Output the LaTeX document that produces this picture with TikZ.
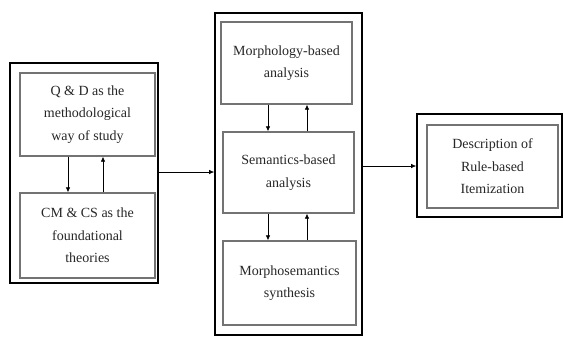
\documentclass[tikz,border=0pt]{standalone}
\usepackage{fontspec}
\setmainfont{Liberation Serif}
\usetikzlibrary{arrows.meta}
\begin{document}
\begin{tikzpicture}[x=1pt,y=1pt,
  outerbox/.style={draw=black, line width=1.6pt, minimum width=#1},
  innerbox/.style={draw=black!55, line width=1.3pt, align=center, text=black!85,
    font=\fontsize{14}{22.5}\selectfont, inner sep=0pt},
  conn/.style={draw=black, line width=0.7pt, -{Latex[length=5pt,width=4.5pt]}}
]
\useasboundingbox (0,0) rectangle (563,-338);
% left group
\node[outerbox=148pt, minimum height=220pt] (Lout) at (84,-173) {};
\node[innerbox, minimum width=135pt, minimum height=83pt] (Ltop) at (87.5,-114.5)
  {Q \& D as the\\methodological\\way of study};
\node[innerbox, minimum width=135pt, minimum height=85pt] (Lbot) at (87.5,-235.5)
  {CM \& CS as the\\foundational\\theories};
% middle group
\node[outerbox=147pt, minimum height=322pt] (Mout) at (288.5,-174) {};
\node[innerbox, minimum width=131pt, minimum height=82pt] (Mtop) at (286.5,-63)
  {Morphology-based\\analysis};
\node[innerbox, minimum width=131pt, minimum height=81pt] (Mmid) at (288.5,-172.5)
  {Semantics-based\\analysis};
\node[innerbox, minimum width=133pt, minimum height=84pt] (Mbot) at (289.5,-283)
  {Morphosemantics\\synthesis};
% right group
\node[outerbox=145pt, minimum height=103pt] (Rout) at (489.5,-165.5) {};
\node[innerbox, minimum width=131pt, minimum height=83pt] (Rin) at (492.5,-166.5)
  {Description of\\Rule-based\\Itemization};
% x positions of inner arrows
\coordinate (xL1) at (68,0);
\coordinate (xL2) at (103,0);
\coordinate (xM1) at (268,0);
\coordinate (xM2) at (307,0);
% inner arrows
\draw[conn] (xL1 |- Ltop.south) -- (xL1 |- Lbot.north);
\draw[conn] (xL2 |- Lbot.north) -- (xL2 |- Ltop.south);
\draw[conn] (xM1 |- Mtop.south) -- (xM1 |- Mmid.north);
\draw[conn] (xM2 |- Mmid.north) -- (xM2 |- Mtop.south);
\draw[conn] (xM1 |- Mmid.south) -- (xM1 |- Mbot.north);
\draw[conn] (xM2 |- Mbot.north) -- (xM2 |- Mmid.south);
% group connectors
\coordinate (yA) at (0,-172);
\coordinate (yB) at (0,-166);
\draw[conn] (Lout.east |- yA) -- (Mout.west |- yA);
\draw[conn] (Mout.east |- yB) -- (Rout.west |- yB);
\end{tikzpicture}
\end{document}
